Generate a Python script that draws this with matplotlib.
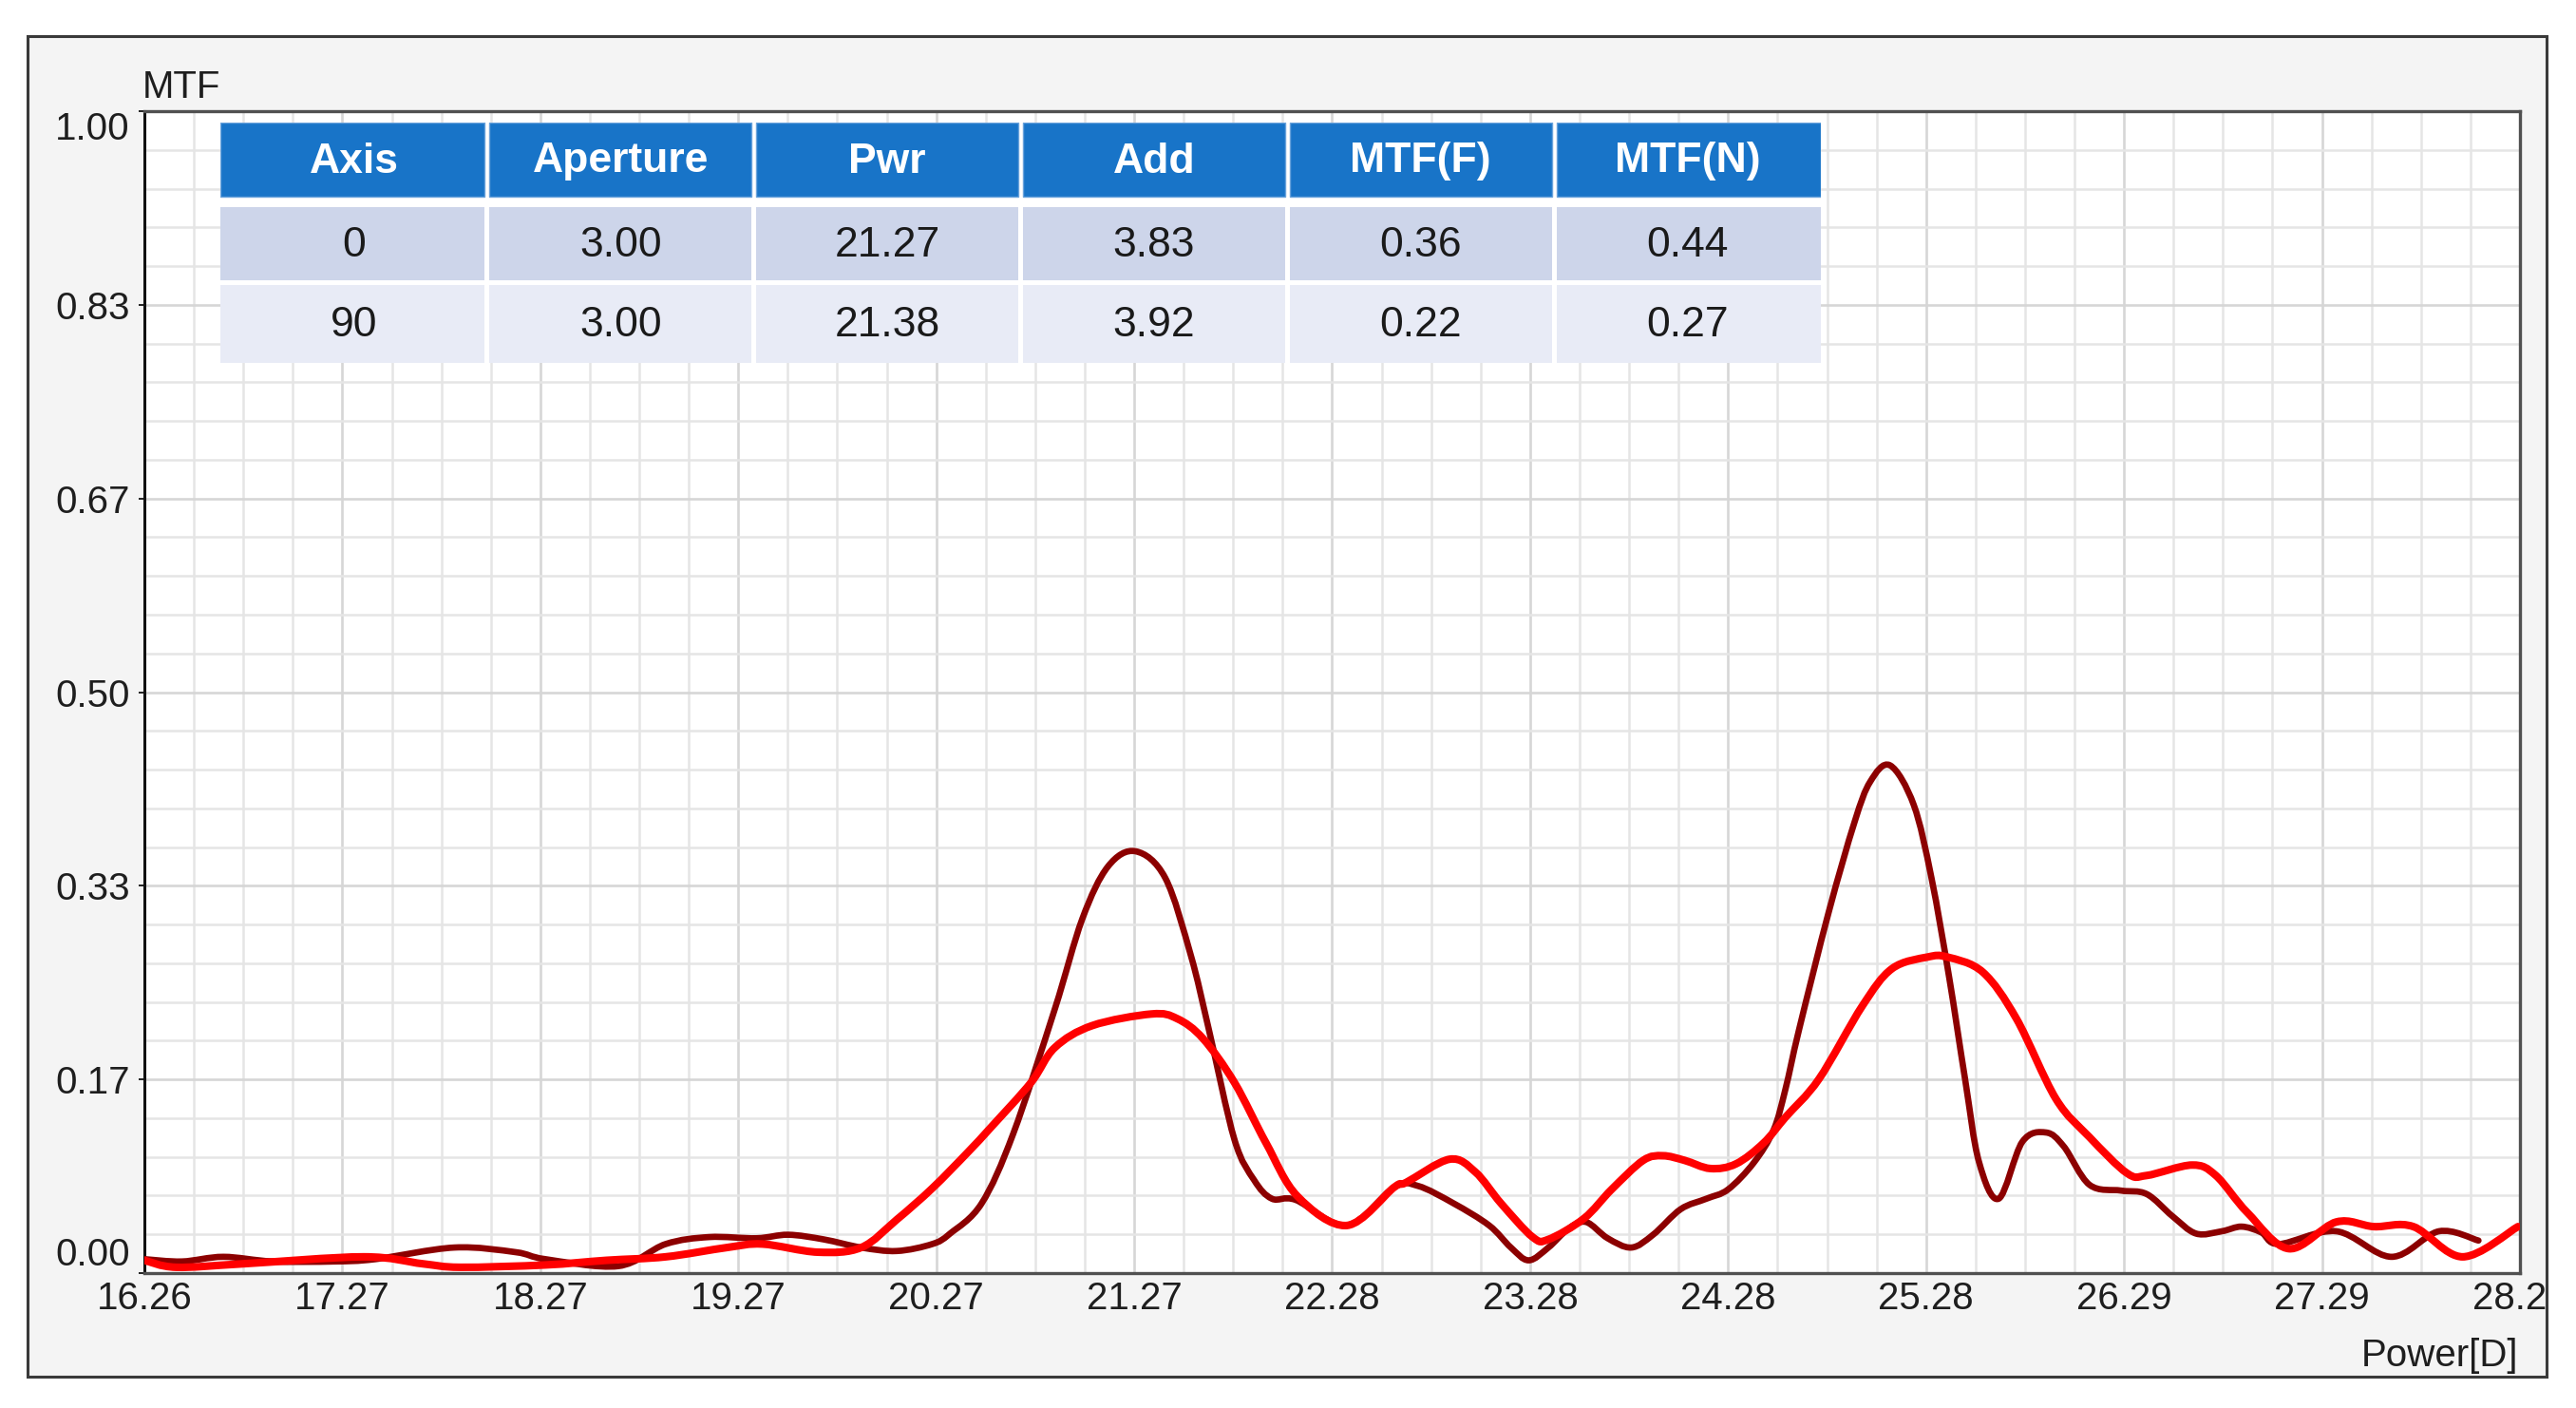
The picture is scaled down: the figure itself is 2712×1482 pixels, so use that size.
import numpy as np
import matplotlib
matplotlib.use("Agg")
import matplotlib.pyplot as plt
from matplotlib.patches import Rectangle, PathPatch
from matplotlib.path import Path

plt.rcParams['font.family'] = ['Liberation Sans', 'DejaVu Sans']

# MTF through focus, axis 0 (dark red)
power_axis0 = [16.26, 16.45, 16.66, 16.91, 17.22, 17.43, 17.83, 18.14, 18.29, 18.66,
               18.90, 19.12, 19.36, 19.52, 19.70, 19.89, 20.07, 20.25, 20.34, 20.50,
               20.66, 20.87, 21.01, 21.14, 21.28, 21.43, 21.56, 21.65, 21.78, 21.88,
               21.97, 22.09, 22.35, 22.59, 22.71, 22.89, 23.07, 23.18, 23.27, 23.37,
               23.47, 23.56, 23.67, 23.79, 23.90, 24.04, 24.17, 24.28, 24.41, 24.51,
               24.57, 24.64, 24.79, 24.92, 25.00, 25.10, 25.22, 25.31, 25.40, 25.48,
               25.55, 25.65, 25.77, 25.89, 25.98, 26.11, 26.27, 26.40, 26.53, 26.65,
               26.78, 26.88, 26.98, 27.07, 27.36, 27.64, 27.88, 28.08]
mtf_axis0 = [0.012, 0.010, 0.014, 0.010, 0.010, 0.012, 0.022, 0.018, 0.012, 0.006,
             0.025, 0.031, 0.030, 0.033, 0.029, 0.022, 0.019, 0.025, 0.034, 0.060,
             0.120, 0.227, 0.305, 0.350, 0.363, 0.340, 0.273, 0.210, 0.115, 0.080,
             0.064, 0.063, 0.041, 0.074, 0.075, 0.060, 0.041, 0.022, 0.011, 0.022,
             0.038, 0.044, 0.030, 0.022, 0.033, 0.055, 0.064, 0.072, 0.095, 0.123,
             0.158, 0.210, 0.311, 0.388, 0.423, 0.437, 0.403, 0.340, 0.254, 0.167,
             0.096, 0.064, 0.113, 0.121, 0.109, 0.076, 0.071, 0.068, 0.049, 0.034,
             0.036, 0.040, 0.035, 0.025, 0.036, 0.014, 0.036, 0.028]

# MTF through focus, axis 90 (red)
power_axis90 = [16.26, 16.42, 16.76, 17.37, 17.67, 17.86, 18.29, 18.60, 18.90, 19.21,
                19.39, 19.67, 19.89, 20.07, 20.25, 20.43, 20.55, 20.75, 20.87, 21.06,
                21.36, 21.49, 21.62, 21.78, 21.94, 22.10, 22.35, 22.59, 22.65, 22.87,
                23.00, 23.13, 23.29, 23.37, 23.55, 23.69, 23.85, 23.95, 24.06, 24.19,
                24.32, 24.46, 24.57, 24.74, 24.96, 25.11, 25.29, 25.39, 25.57, 25.74,
                25.94, 26.11, 26.30, 26.40, 26.63, 26.75, 26.91, 27.12, 27.36, 27.55,
                27.75, 28.00, 28.28]
mtf_axis90 = [0.011, 0.005, 0.008, 0.014, 0.008, 0.005, 0.007, 0.011, 0.014, 0.022,
              0.025, 0.018, 0.022, 0.046, 0.073, 0.104, 0.126, 0.164, 0.194, 0.213,
              0.223, 0.219, 0.202, 0.164, 0.112, 0.066, 0.041, 0.074, 0.078, 0.098,
              0.087, 0.060, 0.031, 0.029, 0.047, 0.072, 0.097, 0.101, 0.097, 0.090,
              0.094, 0.112, 0.134, 0.167, 0.230, 0.262, 0.272, 0.272, 0.259, 0.219,
              0.150, 0.117, 0.086, 0.084, 0.093, 0.084, 0.052, 0.021, 0.044, 0.040,
              0.040, 0.014, 0.040]

x_tick_labels = ['16.26', '17.27', '18.27', '19.27', '20.27', '21.27', '22.28',
                 '23.28', '24.28', '25.28', '26.29', '27.29', '28.29']
y_tick_labels = ['0.00', '0.17', '0.33', '0.50', '0.67', '0.83', '1.00']

table_header = ['Axis', 'Aperture', 'Pwr', 'Add', 'MTF(F)', 'MTF(N)']
table_rows = [['0', '3.00', '21.27', '3.83', '0.36', '0.44'],
              ['90', '3.00', '21.38', '3.92', '0.22', '0.27']]


def smooth_curve(xs, ys):
    """Bezier path through the points (Catmull-Rom style), like the instrument draws"""
    pts = np.column_stack([xs, ys])
    n = len(pts)
    verts = [pts[0]]
    codes = [Path.MOVETO]
    for i in range(n - 1):
        p0 = pts[max(i - 1, 0)]
        p1 = pts[i]
        p2 = pts[i + 1]
        p3 = pts[min(i + 2, n - 1)]
        verts += [p1 + (p2 - p0) / 6, p2 - (p3 - p1) / 6, p2]
        codes += [Path.CURVE4] * 3
    return Path(verts, codes)


W, H = 2712, 1482
fig = plt.figure(figsize=(W / 100, H / 100), dpi=100)

# grey panel with dark border
frame = Rectangle((29 / W, 1 - 1449 / H), (2681 - 29) / W, (1449 - 38) / H,
                  transform=fig.transFigure, facecolor='#f4f4f4',
                  edgecolor='#3a3a3a', linewidth=2.2, zorder=-5)
fig.patches.append(frame)

ax = fig.add_axes([152 / W, 1 - 1340 / H, (2653 - 152) / W, (1340 - 117) / H])
ax.set_facecolor('white')

x_min, x_max = 16.26, 28.29
ax.set_xlim(x_min, x_max)
ax.set_ylim(0, 1)

ax.set_xticks(np.linspace(x_min, x_max, len(x_tick_labels)), x_tick_labels)
ax.set_yticks(np.linspace(0, 1, len(y_tick_labels)), y_tick_labels)
ax.set_xticks(np.linspace(x_min, x_max, 4 * (len(x_tick_labels) - 1) + 1), minor=True)
ax.set_yticks(np.linspace(0, 1, 5 * (len(y_tick_labels) - 1) + 1), minor=True)

ax.grid(which='minor', color='#e5e5e5', linewidth=1.8)
ax.grid(which='major', color='#d6d6d6', linewidth=1.9)
ax.set_axisbelow(True)

ax.tick_params(which='minor', length=0)
ax.tick_params(axis='y', which='major', length=4, width=1.4, color='#222222',
               pad=7, labelsize=29, labelcolor='#1e1e1e')
ax.tick_params(axis='x', which='major', length=0, pad=6, labelsize=29,
               labelcolor='#1e1e1e')

ylabels = ax.get_yticklabels()
ylabels[0].set_verticalalignment('bottom')
ylabels[-1].set_verticalalignment('top')
# last x label is cut by the panel edge
xlabels = ax.get_xticklabels()
xlabels[-1].set_clip_on(True)
xlabels[-1].set_clip_path(frame)

for side in ['top', 'right', 'bottom']:
    ax.spines[side].set_color('#505050')
    ax.spines[side].set_linewidth(2.4)
ax.spines['left'].set_color('#111111')
ax.spines['left'].set_linewidth(2.2)

ax.add_patch(PathPatch(smooth_curve(power_axis0, mtf_axis0), fill=False,
                       edgecolor='#8c0000', linewidth=4.8, joinstyle='round',
                       capstyle='round', zorder=3))
ax.add_patch(PathPatch(smooth_curve(power_axis90, mtf_axis90), fill=False,
                       edgecolor='#ff0000', linewidth=5.8, joinstyle='round',
                       capstyle='round', zorder=4))

fig.text(150 / W, 1 - 92 / H, 'MTF', ha='left', va='center', fontsize=29,
         color='#1e1e1e')
fig.text(2651 / W, 1 - 1427 / H, 'Power[D]', ha='right', va='center',
         fontsize=29, color='#1e1e1e')

# summary table drawn in pixel units on its own axes
tx0, ty0, tw, th = 232, 129, 1685, 253
tab = fig.add_axes([tx0 / W, 1 - (ty0 + th) / H, tw / W, th / H])
tab.set_xlim(0, tw)
tab.set_ylim(th, 0)
tab.axis('off')
tab.add_patch(Rectangle((0, 0), tw, th, facecolor='white', edgecolor='none'))

col_w = tw / len(table_header)
row_spans = [(0, 78), (89, 166), (171, 253)]
row_colors = ['#1874c8', '#cdd5ea', '#e8ebf6']
gap = 2.5
for r, (y0, y1) in enumerate(row_spans):
    cells = table_header if r == 0 else table_rows[r - 1]
    for c, txt in enumerate(cells):
        left = c * col_w + (gap if c > 0 else 0)
        right = (c + 1) * col_w - (gap if c < len(cells) - 1 else 0)
        tab.add_patch(Rectangle((left, y0), right - left, y1 - y0,
                                facecolor=row_colors[r],
                                edgecolor='#6aa3dc' if r == 0 else 'none',
                                linewidth=1.0))
        tab.text((c + 0.5) * col_w, (y0 + y1) / 2 + 2, txt, ha='center',
                 va='center', fontsize=32,
                 fontweight='bold' if r == 0 else 'normal',
                 color='white' if r == 0 else '#1a1a1a')

fig.savefig('out.png', dpi=100, facecolor='white')
